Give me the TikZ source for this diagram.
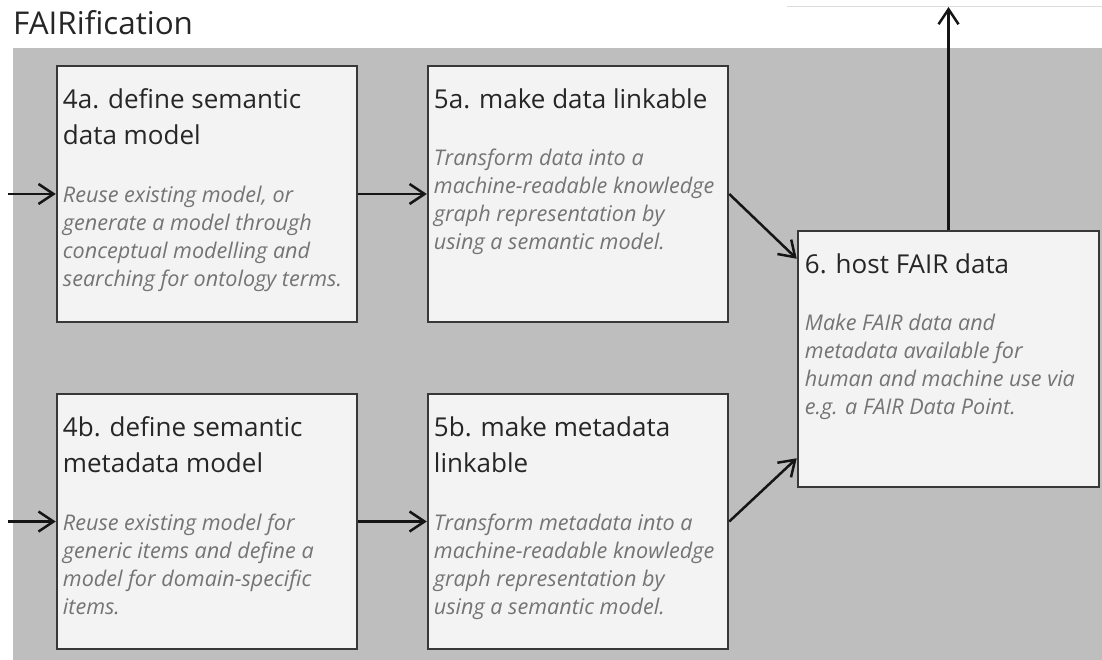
\documentclass[tikz,border=0pt]{standalone}
\usepackage{fontspec}
\setmainfont{Open Sans}
\usetikzlibrary{arrows.meta}
\definecolor{bggray}{HTML}{BEBEBE}
\definecolor{boxfill}{HTML}{F3F3F3}
\definecolor{boxline}{HTML}{383838}
\definecolor{headc}{HTML}{262626}
\definecolor{descc}{HTML}{747474}
\definecolor{arrc}{HTML}{151515}
\definecolor{thinline}{HTML}{DDDDDD}
\tikzset{
  stepbox/.style={draw=boxline, fill=boxfill, line width=2.5pt, minimum width=300pt, minimum height=256pt, inner sep=0pt},
  headtext/.style={anchor=north west, inner sep=0pt, align=left, text=headc, font=\fontsize{26}{36}\selectfont},
  desctext/.style={anchor=north west, inner sep=0pt, align=left, text=descc, font=\fontsize{21.6}{28}\selectfont\itshape},
  arr/.style={draw=arrc, line width=2.5pt, -{Straight Barb[length=15pt,width=20pt,line width=2.5pt]}},
  titletext/.style={anchor=base west, inner sep=0pt, text=headc, font=\fontsize{31.4}{36}\selectfont}
}
\begin{document}
\begin{tikzpicture}[x=1pt,y=-1pt]
\useasboundingbox (0,0) rectangle (1102,660);
\fill[white] (0,0) rectangle (1102,660);
\fill[bggray] (13,48) rectangle (1102,660);
\coordinate (tlA) at (787,7);
\coordinate (tlB) at (1102,7);
\draw[thinline, line width=1pt] (tlA) -- (tlB);
\node[titletext] (title) at (13,35) {FAIRification};

% boxes
\node[stepbox] (b4a) at (207,194) {};
\node[stepbox] (b5a) at (578,194) {};
\node[stepbox, minimum height=255pt] (b4b) at (207,521.5) {};
\node[stepbox, minimum height=255pt] (b5b) at (578,521.5) {};
\node[stepbox, minimum width=301pt] (b6) at (948.5,359) {};

% headings
\node[headtext, xshift=7pt, yshift=-18.8pt] (h4a) at (b4a.north west) {\strut 4a. define semantic\\data model};
\node[headtext, xshift=7pt, yshift=-18.8pt] (h5a) at (b5a.north west) {\strut 5a. make data linkable};
\node[headtext, xshift=7pt, yshift=-18.8pt] (h4b) at (b4b.north west) {\strut 4b. define semantic\\metadata model};
\node[headtext, xshift=7pt, yshift=-18.8pt] (h5b) at (b5b.north west) {\strut 5b. make metadata\\linkable};
\node[headtext, xshift=8pt, yshift=-18.8pt] (h6) at (b6.north west) {\strut 6. host FAIR data};

% descriptions
\node[desctext, xshift=7pt, yshift=-118.4pt] (d4a) at (b4a.north west) {\strut Reuse existing model, or\\generate a model through\\conceptual modelling and\\searching for ontology terms.};
\node[desctext, xshift=7pt, yshift=-81.4pt] (d5a) at (b5a.north west) {\strut Transform data into a\\machine-readable knowledge\\graph representation by\\using a semantic model.};
\node[desctext, xshift=7pt, yshift=-118.4pt] (d4b) at (b4b.north west) {\strut Reuse existing model for\\generic items and define a\\model for domain-specific\\items.};
\node[desctext, xshift=7pt, yshift=-118.4pt] (d5b) at (b5b.north west) {\strut Transform metadata into a\\machine-readable knowledge\\graph representation by\\using a semantic model.};
\node[desctext, xshift=8pt, yshift=-81.4pt] (d6) at (b6.north west) {\strut Make FAIR data and\\metadata available for\\human and machine use via\\e.g. a FAIR Data Point.};

% connectors
\coordinate (in4a) at (8,194);
\coordinate (in4b) at (8,521.5);
\coordinate (out6) at (948.5,7);
\coordinate (e6a) at ([yshift=-29pt]b6.north west);
\coordinate (e6b) at ([yshift=30pt]b6.south west);
\draw[arr] (in4a) -- (b4a.west);
\draw[arr] (b4a.east) -- (b5a.west);
\draw[arr] (in4b) -- (b4b.west);
\draw[arr] (b4b.east) -- (b5b.west);
\draw[arr] (b5a.east) -- (e6a);
\draw[arr] (b5b.east) -- (e6b);
\draw[arr] (b6.north) -- (out6);
\end{tikzpicture}
\end{document}
